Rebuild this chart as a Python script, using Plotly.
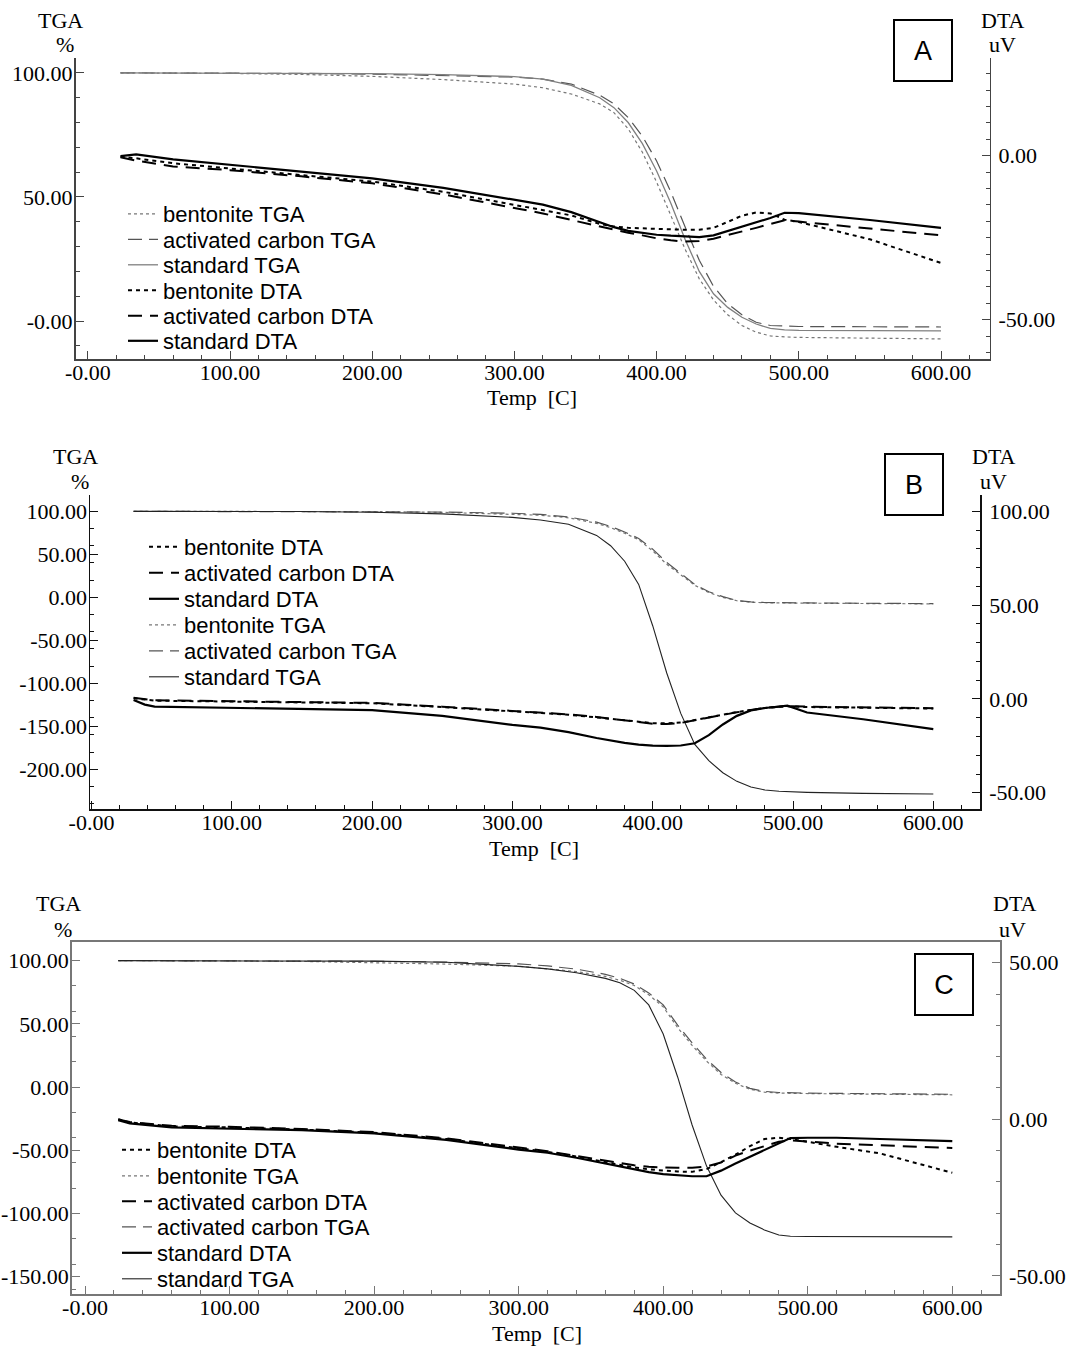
import plotly.graph_objects as go

# ---------------- data ----------------
# Panel A
temp_A = [23, 34, 60, 100, 150, 200, 250, 300, 320, 340, 360, 370, 380, 390, 400, 410, 420, 430, 440, 450, 460, 470, 480, 490, 500, 550, 600]
tga_bentonite_A = [100, 100, 100, 99.8, 99.4, 98.6, 97.3, 95.5, 94, 91.5, 87.5, 84, 77.5, 68, 56, 42.5, 29, 17, 8.5, 2.5, -1.8, -4.5, -6, -6.4, -6.6, -6.9, -7.2]
tga_carbon_A = [100, 100, 100, 99.9, 99.8, 99.5, 99, 98.3, 97.5, 95.5, 91, 87.5, 82, 74.5, 64.5, 52, 38, 24.5, 14, 7, 2.5, -0.5, -1.8, -2.1, -2.2, -2.3, -2.4]
tga_standard_A = [100, 100, 100, 100, 99.9, 99.7, 99.3, 98.5, 97.5, 95, 90, 86, 80, 71.5, 60.5, 47.5, 33, 20, 11, 5.5, 1.5, -1.2, -3, -3.6, -3.8, -4, -4]
dta_bentonite_A = [-0.3, -0.8, -2.3, -3.9, -5.8, -7.9, -11, -15, -16.4, -18.2, -20.8, -21.6, -22, -22.2, -22.4, -22.5, -22.6, -22.6, -22, -20.2, -18.3, -17.3, -17.6, -19.5, -20.2, -25.5, -32.7]
dta_carbon_A = [-0.5, -1.5, -3.3, -4.4, -6.3, -8.4, -11.8, -16, -17.6, -19.6, -21.6, -22.7, -23.5, -24.3, -25.2, -25.8, -26.2, -26, -25.3, -24.2, -23.2, -22, -20.8, -19.7, -20.1, -22.2, -24.3]
dta_standard_A = [-0.1, 0.4, -1.1, -2.8, -4.7, -6.9, -9.8, -13.5, -14.9, -17.2, -20.2, -21.8, -22.9, -23.6, -24.1, -24.4, -24.6, -24.8, -24.3, -23, -21.6, -20.2, -19, -17.4, -17.5, -19.6, -22]

# Panel B
temp_B = [30, 38, 45, 100, 150, 200, 250, 300, 320, 340, 360, 370, 380, 390, 400, 410, 420, 430, 440, 450, 460, 470, 480, 490, 496, 510, 550, 600]
tga_bentonite_B = [100, 100, 100, 100, 100, 99.7, 98.8, 97, 95.5, 92.5, 86, 81, 74.5, 67, 54, 38.5, 26, 14, 5.5, 0, -4, -5.7, -6.3, -6.6, -6.7, -6.8, -7.2, -7.6]
tga_carbon_B = [100, 100, 100, 100, 100, 99.8, 99.2, 97.8, 96.5, 93.5, 87.5, 82.5, 76, 68.5, 56, 40.5, 27.5, 15, 6.5, 0.8, -3.6, -5.4, -6, -6.3, -6.4, -6.5, -6.9, -7.3]
tga_standard_B = [100, 100, 100, 100, 99.8, 99, 97, 93, 90, 85, 72, 60, 42, 15, -33, -88, -135, -171, -190, -204, -214, -220.5, -224, -225.5, -226, -226.8, -228, -228.7]
dta_bentonite_B = [0.4, -0.5, -0.9, -1.4, -1.8, -2.3, -4.3, -6.6, -7.4, -8.4, -9.8, -10.6, -11.5, -12.3, -12.9, -13, -12.6, -11.2, -9.6, -8.4, -7, -5.8, -4.8, -4.2, -3.9, -4.3, -4.6, -5.1]
dta_carbon_B = [0.6, -0.3, -0.7, -1.2, -1.6, -2.1, -4.1, -6.4, -7.2, -8.2, -9.6, -10.5, -11.5, -12.4, -13.2, -13.4, -12.8, -11.3, -9.7, -8.5, -7.1, -5.8, -4.7, -4.1, -3.8, -4.1, -4.4, -4.9]
dta_standard_B = [-0.5, -3, -4.1, -4.6, -5.2, -5.9, -9, -13.8, -15.3, -17.7, -20.8, -22.2, -23.4, -24.3, -24.9, -25, -24.8, -23.6, -19.3, -13.6, -9, -6.1, -4.8, -4, -3.6, -7.2, -10.8, -16.1]

# Panel C
temp_C = [23, 31, 60, 100, 150, 200, 250, 300, 320, 340, 360, 370, 380, 390, 400, 410, 420, 430, 440, 450, 460, 470, 480, 488, 500, 520, 550, 600]
tga_bentonite_C = [100, 100, 100, 99.8, 99.4, 98.6, 97.3, 95.6, 93.8, 91.4, 87.5, 84.5, 80.3, 73, 63.5, 47, 33, 20.5, 10, 3, -1.8, -4, -4.8, -5, -5.2, -5.4, -5.7, -6.1]
tga_carbon_C = [100, 100, 100, 99.9, 99.8, 99.5, 98.8, 97.5, 95.8, 93.3, 89.2, 86, 81.5, 74.5, 65, 49, 35, 22, 11.5, 4, -1, -3.4, -4.3, -4.6, -4.8, -5, -5.3, -5.7]
tga_standard_C = [100, 100, 100, 100, 99.9, 99.6, 98.7, 95.5, 93.5, 90.5, 86, 82.5, 76.5, 65, 42, 8, -30, -62.5, -85.5, -99.5, -107.5, -113, -117, -118, -118.2, -118.3, -118.4, -118.5]
dta_bentonite_C = [0, -1, -2.3, -2.6, -3.3, -4.3, -6.3, -9.4, -10.4, -11.9, -13.6, -14.5, -15.4, -16, -16.4, -16.7, -16.8, -15.9, -13.7, -11.3, -8.6, -6.3, -5.9, -6.3, -7.2, -8.8, -10.9, -17.1]
dta_carbon_C = [-0.1, -0.9, -2.1, -2.4, -3.1, -4.1, -6.1, -9.2, -10.2, -11.7, -13.2, -14, -14.7, -15.2, -15.4, -15.5, -15.5, -15.1, -13.8, -11.6, -10, -8.5, -7.2, -6.7, -7.1, -7.8, -8.3, -9.2]
dta_standard_C = [-0.3, -1.3, -2.6, -2.9, -3.5, -4.5, -6.6, -9.7, -10.7, -12.3, -14.1, -15, -16, -16.9, -17.5, -17.9, -18.2, -18.2, -16.4, -14.1, -11.9, -9.8, -7.7, -6, -5.9, -5.9, -6.3, -7]

# tick labels
x_tickvals = [0, 100, 200, 300, 400, 500, 600]
x_ticktext = ["-0.00", "100.00", "200.00", "300.00", "400.00", "500.00", "600.00"]
left_tickvals_A = [100, 50, 0]
left_ticktext_A = ["100.00", "50.00", "-0.00"]
right_tickvals_A = [0, -50]
right_ticktext_A = ["0.00", "-50.00"]
left_tickvals_B = [100, 50, 0, -50, -100, -150, -200]
left_ticktext_B = ["100.00", "50.00", "0.00", "-50.00", "-100.00", "-150.00", "-200.00"]
right_tickvals_B = [100, 50, 0, -50]
right_ticktext_B = ["100.00", "50.00", "0.00", "-50.00"]
left_tickvals_C = [100, 50, 0, -50, -100, -150]
left_ticktext_C = ["100.00", "50.00", "0.00", "-50.00", "-100.00", "-150.00"]
right_tickvals_C = [50, 0, -50]
right_ticktext_C = ["50.00", "0.00", "-50.00"]

panel_letters = ["A", "B", "C"]
left_title = ["TGA", "%"]
right_title = ["DTA", "uV"]
x_title = "Temp\u00a0 [C]"

# ---------------- styling / layout ----------------
W, H = 1067, 1347
SERIF = "Liberation Serif"
SANS = "Liberation Sans"

def fx(p):
    return p / W

def fy(p):
    return 1 - p / H

styles = {
    "bentonite TGA": dict(color="#777777", width=1.2, dash="3px,3px"),
    "activated carbon TGA": dict(color="#555555", width=1.2, dash="14px,7px"),
    "standard TGA": dict(color="#808080", width=1.3, dash="solid"),
    "bentonite DTA": dict(color="#000000", width=2, dash="4px,4px"),
    "activated carbon DTA": dict(color="#000000", width=2, dash="14px,8px"),
    "standard DTA": dict(color="#000000", width=2.2, dash="solid"),
}
styles_dark_tga = dict(styles)
styles_dark_tga["standard TGA"] = dict(color="#222222", width=1.1, dash="solid")

panels = [
    dict(
        temp=temp_A,
        series={
            "bentonite TGA": tga_bentonite_A, "activated carbon TGA": tga_carbon_A, "standard TGA": tga_standard_A,
            "bentonite DTA": dta_bentonite_A, "activated carbon DTA": dta_carbon_A, "standard DTA": dta_standard_A,
        },
        order=["bentonite TGA", "activated carbon TGA", "standard TGA", "bentonite DTA", "activated carbon DTA", "standard DTA"],
        styles=styles,
        xdom=(75.5, 989.5), ydom=(58, 359),
        xrange=[-8.65, 634.1], lrange=[-15.3, 106.0], rrange=[-62.0, 29.8],
        lticks=(left_tickvals_A, left_ticktext_A), rticks=(right_tickvals_A, right_ticktext_A),
        lminor=10, rminor=5, linecolor="#444444", mirror=False,
        legend_text_x=163, legend_rows=[214, 239.5, 265, 290.5, 316, 341],
        letter_box=(923, 50.5),
        ltitle=(60, 20, 65, 45), rtitle=(1003, 20, 1002, 45), xtitle=(532, 397),
    ),
    dict(
        temp=temp_B,
        series={
            "bentonite TGA": tga_bentonite_B, "activated carbon TGA": tga_carbon_B, "standard TGA": tga_standard_B,
            "bentonite DTA": dta_bentonite_B, "activated carbon DTA": dta_carbon_B, "standard DTA": dta_standard_B,
        },
        order=["bentonite DTA", "activated carbon DTA", "standard DTA", "bentonite TGA", "activated carbon TGA", "standard TGA"],
        styles=styles_dark_tga,
        xdom=(90, 980.3), ydom=(495, 809.3),
        xrange=[-1.07, 633.5], lrange=[-246.5, 119.0], rrange=[-58.8, 108.7],
        lticks=(left_tickvals_B, left_ticktext_B), rticks=(right_tickvals_B, right_ticktext_B),
        lminor=20, rminor=10, linecolor="#111111", mirror=False,
        legend_text_x=184, legend_rows=[547, 573, 599, 625, 651, 677],
        letter_box=(914, 484),
        ltitle=(75, 456, 80, 481), rtitle=(994, 456, 993, 481), xtitle=(534, 848),
    ),
    dict(
        temp=temp_C,
        series={
            "bentonite TGA": tga_bentonite_C, "activated carbon TGA": tga_carbon_C, "standard TGA": tga_standard_C,
            "bentonite DTA": dta_bentonite_C, "activated carbon DTA": dta_carbon_C, "standard DTA": dta_standard_C,
        },
        order=["bentonite DTA", "bentonite TGA", "activated carbon DTA", "activated carbon TGA", "standard DTA", "standard TGA"],
        styles=styles_dark_tga,
        xdom=(71.7, 1000), ydom=(941.7, 1294),
        xrange=[-9.2, 633.0], lrange=[-163.7, 115.0], rrange=[-55.8, 56.7],
        lticks=(left_tickvals_C, left_ticktext_C), rticks=(right_tickvals_C, right_ticktext_C),
        lminor=20, rminor=10, linecolor="#777777", mirror=True,
        legend_text_x=157, legend_rows=[1150, 1176, 1201.5, 1227, 1253, 1279],
        letter_box=(944, 984),
        ltitle=(58, 903, 63, 929), rtitle=(1015, 903, 1012, 929), xtitle=(537, 1333),
    ),
]

fig = go.Figure()
layout = dict(
    width=W, height=H, autosize=False,
    margin=dict(l=0, r=0, t=0, b=0, pad=0),
    paper_bgcolor="white", plot_bgcolor="white",
    font=dict(family=SERIF, size=22, color="black"),
    hovermode=False,
)
annotations = []
legend_count = 0
tickfont = dict(family=SERIF, size=22, color="black")

for i, p in enumerate(panels):
    xa = "xaxis" if i == 0 else f"xaxis{i + 1}"
    xr = "x" if i == 0 else f"x{i + 1}"
    yl_n, yr_n = 2 * i + 1, 2 * i + 2
    yl = "yaxis" if yl_n == 1 else f"yaxis{yl_n}"
    yl_ref = "y" if yl_n == 1 else f"y{yl_n}"
    yr = f"yaxis{yr_n}"
    yr_ref = f"y{yr_n}"
    lc = p["linecolor"]
    common = dict(showgrid=False, zeroline=False, showline=True, linecolor=lc, linewidth=1.5,
                  ticks="inside", ticklen=8, tickwidth=1, tickcolor=lc, tickfont=tickfont,
                  automargin=False, fixedrange=True)
    layout[xa] = dict(common, domain=[fx(p["xdom"][0]), fx(p["xdom"][1])], anchor=yl_ref,
                      range=p["xrange"], tickmode="array", tickvals=x_tickvals, ticktext=x_ticktext,
                      mirror=p["mirror"], ticklabelstandoff=-7,
                      minor=dict(tickmode="linear", tick0=0, dtick=20, ticks="inside", ticklen=4,
                                 tickcolor=lc, tickwidth=1))
    layout[yl] = dict(common, domain=[fy(p["ydom"][1]), fy(p["ydom"][0])], anchor=xr, side="left",
                      range=p["lrange"], tickmode="array", tickvals=p["lticks"][0], ticktext=p["lticks"][1],
                      ticklabelstandoff=-3,
                      minor=dict(tickmode="linear", tick0=0, dtick=p["lminor"], ticks="inside", ticklen=4,
                                 tickcolor=lc, tickwidth=1))
    layout[yr] = dict(common, overlaying=yl_ref, anchor=xr, side="right",
                      range=p["rrange"], tickmode="array", tickvals=p["rticks"][0], ticktext=p["rticks"][1],
                      ticklabelstandoff=3,
                      minor=dict(tickmode="linear", tick0=0, dtick=p["rminor"], ticks="inside", ticklen=4,
                                 tickcolor=lc, tickwidth=1))

    for k, name in enumerate(p["order"]):
        legend_count += 1
        lid = "legend" if legend_count == 1 else f"legend{legend_count}"
        st = p["styles"][name]
        on_right = name.endswith("DTA")
        fig.add_trace(go.Scatter(
            x=p["temp"], y=p["series"][name], mode="lines", name=name,
            line=dict(color=st["color"], width=st["width"], dash=st["dash"]),
            xaxis=xr, yaxis=yr_ref if on_right else yl_ref,
            legend=lid, showlegend=True, hoverinfo="skip",
        ))
        layout[lid] = dict(
            x=fx(p["legend_text_x"] - 40), y=fy(p["legend_rows"][k]),
            xanchor="left", yanchor="middle", borderwidth=0,
            bgcolor="rgba(0,0,0,0)", font=dict(family=SANS, size=22, color="black"),
            itemwidth=30, itemclick=False, itemdoubleclick=False,
        )

    # axis titles
    lx1, ly1, lx2, ly2 = p["ltitle"]
    rx1, ry1, rx2, ry2 = p["rtitle"]
    for (tx, ty, txt) in [(lx1, ly1, left_title[0]), (lx2, ly2, left_title[1]),
                          (rx1, ry1, right_title[0]), (rx2, ry2, right_title[1]),
                          (p["xtitle"][0], p["xtitle"][1], x_title)]:
        annotations.append(dict(x=fx(tx), y=fy(ty), xref="paper", yref="paper", text=txt,
                                showarrow=False, xanchor="center", yanchor="middle",
                                font=dict(family=SERIF, size=22, color="black")))
    # panel letter box
    bx, by = p["letter_box"]
    annotations.append(dict(x=fx(bx), y=fy(by), xref="paper", yref="paper", text=panel_letters[i],
                            showarrow=False, xanchor="center", yanchor="middle",
                            width=56, height=59, borderpad=0, bordercolor="black", borderwidth=2,
                            bgcolor="white", font=dict(family=SANS, size=27, color="black")))

layout["annotations"] = annotations
fig.update_layout(**layout)

fig.write_html("out.html", include_plotlyjs=True, full_html=True,
               config=dict(displayModeBar=False, staticPlot=True),
               post_script="document.body.style.margin='0';document.body.style.overflow='hidden';")
